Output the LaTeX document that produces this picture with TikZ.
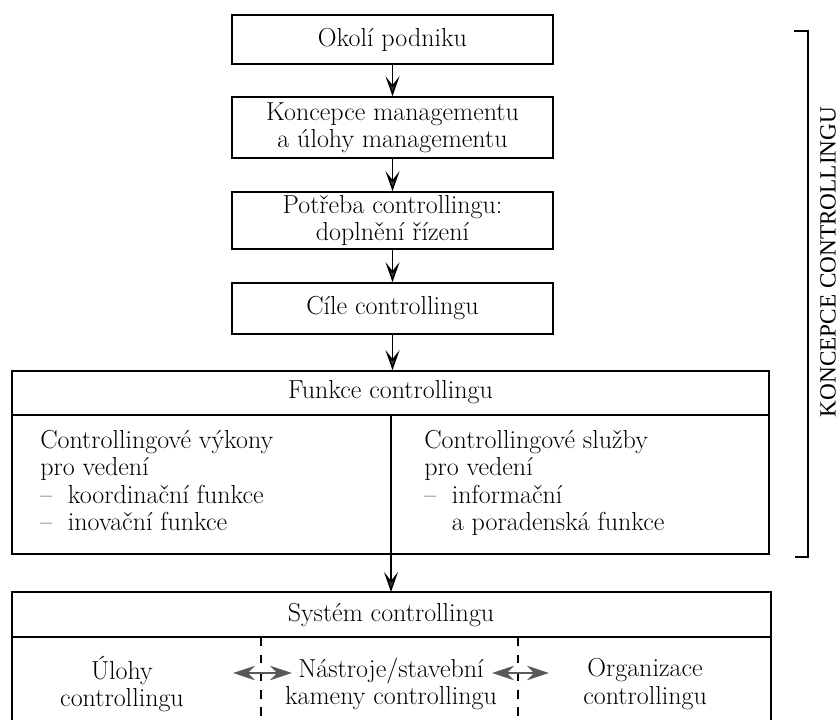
\documentclass[tikz,border=0pt]{standalone}
\usepackage{fontspec}
\newfontfamily\sidefont{Liberation Serif}
\usetikzlibrary{arrows.meta}
\begin{document}
\begin{tikzpicture}[x=0.025cm, y=-0.025cm,
  font=\fontsize{18.5}{19.5}\selectfont,
  box/.style={draw, line width=1.1pt, minimum width=8.025cm, align=center, inner sep=0pt},
  down/.style={line width=1.1pt, -{Stealth[length=5mm, width=3.5mm, inset=2.2mm, fill=black!75]}},
  twoway/.style={line width=1.6pt, black!65, {Stealth[length=5.5mm, width=3.6mm]}-{Stealth[length=5.5mm, width=3.6mm]}},
  sep/.style={line width=0.9pt, dash pattern=on 2.2mm off 2.2mm}]
  \useasboundingbox (0,0) rectangle (840,720);
  \node[box, minimum height=1.225cm] (okoli) at (392.5,39.5) {Okolí podniku};
  \node[box, minimum height=1.525cm] (koncepce) at (392.5,127.5) {Koncepce managementu\\a úlohy managementu};
  \node[box, minimum height=1.425cm] (potreba) at (392.5,220.5) {Potřeba controllingu:\\doplnění řízení};
  \node[box, minimum height=1.275cm] (cile) at (392.5,308.5) {Cíle controllingu};
  \draw[down] (okoli) -- (koncepce);
  \draw[down] (koncepce) -- (potreba);
  \draw[down] (potreba) -- (cile);
  % funkce
  \node[draw, line width=1.1pt, minimum width=18.925cm, minimum height=4.575cm] (funkce) at (390.5,462.5) {};
  \coordinate (fhead) at (391,415);
  \draw[down] (cile) -- (funkce.north -| cile);
  \draw[line width=1.1pt] (funkce.west |- fhead) -- (funkce.east |- fhead);
  \draw[line width=1.1pt] (fhead) -- (funkce.south -| fhead);
  \node (funkcetitle) at (390.5,392) {Funkce controllingu};
  \node[anchor=north west, align=left, inner sep=0pt] (vykony) at (40,430)
    {Controllingové výkony\\pro vedení\\\textendash\ \ koordinační funkce\\\textendash\ \ inovační funkce};
  \node[anchor=north west, align=left, inner sep=0pt] (sluzby) at (424,430)
    {Controllingové služby\\pro vedení\\\textendash\ \ informační\\\phantom{\textendash\ \ }a poradenská funkce};
  % system
  \coordinate (systop) at (391,592);
  \draw[down] (funkce.south -| fhead) -- (systop);
  \draw[line width=1.1pt] (12,720) -- (12,592) -- (771,592) -- (771,720);
  \draw[line width=1.1pt] (12,637) -- (771,637);
  \node (systitle) at (391,615) {Systém controllingu};
  \draw[sep] (261,637) -- (261,720);
  \draw[sep] (518,637) -- (518,720);
  \node[align=center] (ulohy) at (122,684) {Úlohy\\controllingu};
  \node[align=center] (nastroje) at (391,684) {Nástroje/stavební\\kameny controllingu};
  \node[align=center] (organizace) at (645,684) {Organizace\\controllingu};
  \coordinate (a1) at (233,673);
  \coordinate (a2) at (292,673);
  \coordinate (a3) at (492,673);
  \coordinate (a4) at (549,673);
  \draw[twoway] (a1) -- (a2);
  \draw[twoway] (a3) -- (a4);
  % bracket
  \draw[line width=1.1pt] (794,31) -- (808,31) -- (808,557) -- (795,557);
  \node[rotate=90, inner sep=0pt, font=\sidefont\fontsize{16.5}{20}\selectfont] (label) at (828,262) {KONCEPCE CONTROLLINGU};
\end{tikzpicture}
\end{document}
